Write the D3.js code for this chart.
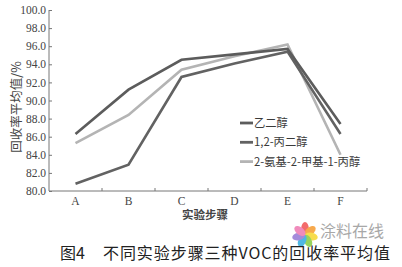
<!DOCTYPE html>
<html lang="zh-CN">
<head>
<meta charset="utf-8">
<title>回收率平均值</title>
<style>
html,body{margin:0;padding:0;background:#fff;overflow:hidden;}
svg{display:block;}
.tick text{font-family:"Liberation Serif","DejaVu Serif",serif;fill:#444;}
.axis path,.axis line{stroke:#777;}
</style>
</head>
<body>
<div id="chart"></div>
<script src="https://cdn.jsdelivr.net/npm/d3@7"></script>
<script>
/* ---------- 数据 ---------- */
const steps = ['A','B','C','D','E','F'];
const ethyleneGlycol  = [86.3, 91.2, 94.5, 95.1, 95.7, 87.4];
const propyleneGlycol = [80.8, 82.9, 92.6, 94.1, 95.4, 86.3];
const aminoPropanol   = [85.3, 88.4, 93.4, 94.9, 96.2, 84.0];
const seriesNames  = ['乙二醇','1,2-丙二醇','2-氨基-2-甲基-1-丙醇'];
const seriesColors = ['#5c5c5c','#626262','#b4b4b4'];
const yTicks = [80,82,84,86,88,90,92,94,96,98,100];

const W = 402, H = 267;
const m = {left:49, right:35, top:10, bottom:76};

const svg = d3.select('#chart').append('svg').attr('width',W).attr('height',H);

const x = d3.scaleBand().domain(steps).range([m.left, W-m.right]);
const y = d3.scaleLinear().domain([80,100]).range([H-m.bottom, m.top]);

/* ---------- 坐标轴 ---------- */
const xAxis = svg.append('g').attr('class','axis')
  .attr('transform',`translate(0,${H-m.bottom})`)
  .call(d3.axisBottom(x).tickSize(0).tickPadding(6));
xAxis.selectAll('text').attr('font-size',11.5);
xAxis.select('.domain').attr('d',`M${m.left},0H${W-m.right}`);
// 分隔刻度（向内）
xAxis.selectAll('line.sep')
  .data(steps)
  .join('line').attr('class','sep')
  .attr('x1',(d,i)=>x.range()[0]+x.step()*(i+1))
  .attr('x2',(d,i)=>x.range()[0]+x.step()*(i+1))
  .attr('y1',0).attr('y2',-3).attr('stroke','#777');

const yAxis = svg.append('g').attr('class','axis')
  .attr('transform',`translate(${m.left},0)`)
  .call(d3.axisLeft(y).tickValues(yTicks).tickFormat(d3.format('.1f')).tickSize(-3).tickPadding(3));
yAxis.selectAll('text').attr('font-size',11.5);
yAxis.select('.domain').attr('d',`M0,${y(100)}V${y(80)}`);

/* ---------- 折线 ---------- */
const line = d3.line().x((d,i)=>x(steps[i])+x.bandwidth()/2).y(d=>y(d));
[aminoPropanol, propyleneGlycol, ethyleneGlycol].forEach((vals,k)=>{
  const idx = [2,1,0][k];
  svg.append('path').datum(vals)
    .attr('fill','none').attr('stroke',seriesColors[idx])
    .attr('stroke-width',2.6).attr('stroke-linejoin','miter')
    .attr('d',line);
});

/* ---------- 图例 ---------- */
const lg = svg.append('g').attr('transform','translate(240,123)');
seriesNames.forEach((name,i)=>{
  const r = lg.append('g').attr('transform',`translate(0,${i*19.3})`);
  r.append('line').attr('x1',0).attr('x2',13).attr('stroke',seriesColors[i]).attr('stroke-width',2.8);
  r.append('text').attr('x',14).attr('dy','0.35em')
    .attr('font-family','"Noto Sans CJK SC",sans-serif').attr('font-size',11.3)
    .attr('fill','#3a3a3a').text(name);
});

/* ---------- 轴标题 ---------- */
svg.append('text').attr('x',205).attr('y',219).attr('text-anchor','middle')
  .attr('font-family','"Noto Sans CJK SC",sans-serif').attr('font-size',11.5)
  .attr('font-weight','bold').attr('fill','#444').text('实验步骤');
svg.append('text').attr('transform','translate(21,107) rotate(-90)').attr('text-anchor','middle')
  .attr('font-family','"Noto Sans CJK SC",sans-serif').attr('font-size',12.5)
  .attr('fill','#444').text('回收率平均值/%');

/* ---------- 水印 ---------- */
const petals = ['#f25c5c','#f7a03a','#f7d93a','#8ccf4d','#3db0e0','#9b7fd6','#ef7fb5'];
const logo = svg.append('g').attr('transform','translate(305,235)').attr('opacity',0.9);
petals.forEach((c,i)=>{
  logo.append('ellipse').attr('cx',0).attr('cy',-6.5).attr('rx',3.8).attr('ry',6.5)
    .attr('fill',c).attr('transform',`rotate(${i*360/petals.length})`);
});
svg.append('text').attr('x',320).attr('y',237).attr('font-family','"Noto Sans CJK SC",sans-serif')
  .attr('font-size',16).attr('fill','#a8a8a8').text('涂料在线');

/* ---------- 图题 ---------- */
svg.append('text').attr('x',60).attr('y',259).attr('font-family','"Noto Sans CJK SC",sans-serif')
  .attr('font-size',16).attr('fill','#222').text('图4');
svg.append('text').attr('x',103).attr('y',259).attr('font-family','"Noto Sans CJK SC",sans-serif')
  .attr('font-size',16).attr('fill','#222').attr('textLength',287).attr('lengthAdjust','spacing')
  .text('不同实验步骤三种VOC的回收率平均值');
</script>
</body>
</html>
